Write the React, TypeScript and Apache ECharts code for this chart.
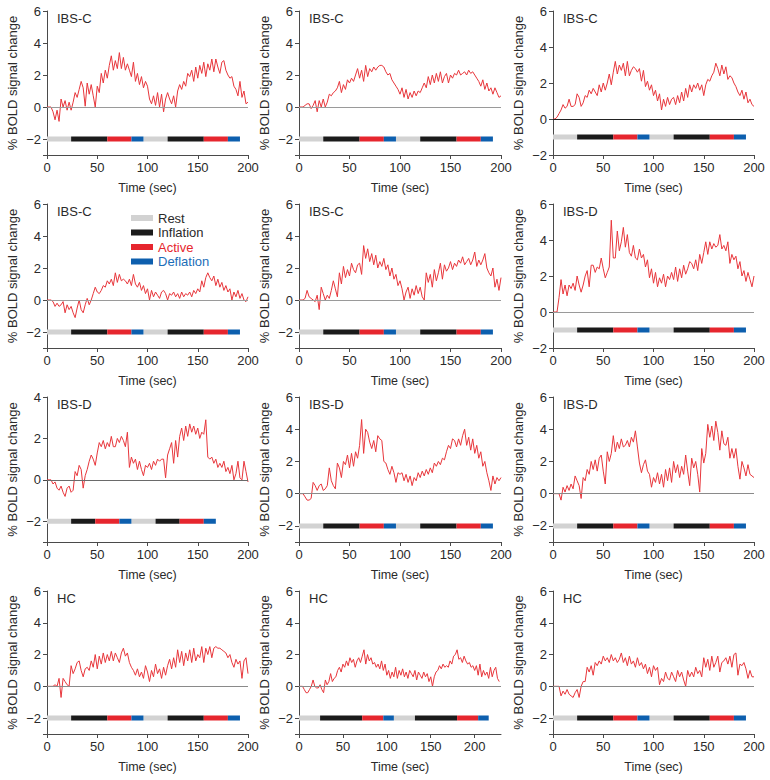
import React, { useEffect, useRef } from "react";
import * as echarts from "echarts";

// ---------- data ----------
const panelTitles = ["IBS-C", "IBS-C", "IBS-C", "IBS-C", "IBS-C", "IBS-D", "IBS-D", "IBS-D", "IBS-D", "HC", "HC", "HC"];
const sampleStepSec = 2;

const p1 = [0, 0, 0, -0.3, -0.8, -0.2, -0.9, 0.5, 0.0, 0.4,
  -0.2, 0.3, -0.2, 0.3, 0.9, 0.6, 1.1, 1.6, 1.2, 0.05,
  1.5, 0.8, 1.4, 0.7, 0.0, 1.3, 0.9, 2.1, 1.5, 2.3,
  1.8, 2.6, 3.2, 2.3, 2.9, 2.4, 3.4, 2.4, 3.1, 2.3,
  2.7, 2.3, 1.9, 2.8, 1.6, 2.1, 1.4, 1.9, 1.2, 1.6,
  1.3, 0.5, 0.2, 0.7, 0.1, 0.9, 0.0, 0.8, -0.3, 0.5,
  0.9, 0.5, 0.2, 0.7, 0.0, 1.0, 1.4, 1.1, 1.6, 1.3,
  2.1, 1.9, 2.3, 1.6, 2.5, 1.8, 2.6, 2.1, 2.8, 1.9,
  2.7, 2.3, 3.0, 2.2, 3.0, 2.5, 2.1, 2.8, 2.9, 2.3,
  2.0, 1.8, 1.9, 1.3, 1.1, 0.7, 1.6, 0.6, 1.0, 0.2,
  0.3];
const p2 = [0, 0, 0, 0.1, 0.2, 0.2, -0.1, 0.1, 0.4, -0.3,
  0.4, 0.0, 0.5, 0.0, 0.3, 0.8, 0.7, 0.9, 1.0, 1.2,
  1.6, 0.9, 1.4, 1.1, 1.7, 1.5, 1.8, 1.6, 2.0, 2.4,
  1.8, 2.3, 1.6, 2.6, 1.9, 2.4, 2.2, 2.5, 2.3, 2.5,
  2.6, 2.6, 2.5, 2.2, 2.0, 2.1, 1.7, 1.5, 1.3, 1.1,
  0.8, 1.2, 0.6, 1.1, 0.5, 0.9, 0.6, 1.0, 0.7, 1.0,
  0.9, 1.2, 1.5, 1.2, 1.9, 1.4, 2.0, 1.5, 2.1, 1.6,
  2.2, 1.5, 1.9, 2.1, 1.5, 2.0, 1.8, 2.1, 2.0, 2.3,
  2.0, 2.1, 2.2, 2.0, 2.3, 2.1, 2.2, 2.0, 1.8, 1.6,
  1.3, 1.7, 1.1, 1.5, 1.0, 1.2, 0.8, 1.2, 0.9, 0.6,
  0.7];
const p3 = [0, 0, 0.1, 0.3, 0.5, 0.8, 0.6, 0.7, 1.1, 0.7,
  0.7, 0.8, 1.4, 1.2, 0.7, 0.9, 1.3, 1.2, 1.6, 1.4,
  1.7, 1.5, 1.3, 1.9, 1.5, 2.0, 1.6, 2.0, 2.5, 1.9,
  2.6, 3.2, 2.5, 3.0, 2.7, 3.1, 2.4, 3.2, 2.4, 2.7,
  2.9, 2.8, 2.6, 2.8, 2.1, 2.7, 1.8, 2.1, 1.6, 1.9,
  1.3, 1.6, 1.0, 1.4, 0.5, 1.1, 0.7, 1.2, 0.8, 1.1,
  1.2, 0.8, 1.3, 0.9, 1.5, 1.0, 1.7, 1.2, 1.9, 1.5,
  1.9, 1.7, 2.0, 1.6, 1.9, 1.3, 1.9, 2.2, 2.1, 2.4,
  2.6, 3.1, 2.8, 2.4, 3.0, 2.5, 2.9, 2.2, 2.4, 2.3,
  2.0, 1.8, 1.5, 1.3, 1.6, 1.1, 1.5, 0.9, 1.1, 0.8,
  0.7];
const p4 = [0, 0, 0, -0.1, -0.4, -0.2, -0.4, -0.3, -0.1, -0.8,
  -0.3, -0.6, -0.4, -0.8, -1.1, -0.5, 0.0, -0.6, -0.8, -0.3,
  0.1, -0.3, 0.0, 0.4, 0.8, 0.5, 0.4, 0.6, 0.9, 0.8,
  1.2, 1.0, 1.3, 0.9, 1.7, 1.1, 1.6, 1.2, 1.3, 1.2,
  1.0, 1.3, 0.9, 1.6, 1.0, 0.8, 1.1, 0.6, 0.9, 0.4,
  0.7, 0.0, 0.6, 0.2, 0.5, 0.3, 0.1, 0.5, 0.6, 0.4,
  0.0, 0.4, 0.3, 0.5, 0.2, 0.4, 0.1, 0.5, 0.2, 0.4,
  0.3, 0.5, 0.2, 0.6, 0.4, 0.7, 0.5, 1.2, 0.8, 1.4,
  1.7, 1.4, 1.2, 1.5, 0.9, 1.3, 0.8, 1.1, 0.6, 0.9,
  0.5, 0.7, 0.0, 0.5, 0.2, 0.6, 0.1, 0.4, 0.0, -0.1,
  0.2];
const p5 = [0, 0, 0, 0.1, 0.6, 0.2, 0.1, 0.0, -0.1, 0.3,
  -0.6, 0.8, 0.4, 0.0, 0.3, 0.1, 0.6, 1.2, 0.7, 0.2,
  1.7, 1.0, 2.1, 1.4, 1.9, 1.5, 2.3, 1.9, 1.7, 2.2,
  2.3, 1.6, 3.4, 2.6, 3.2, 2.4, 2.9, 2.2, 2.8, 2.0,
  2.4, 2.1, 2.6, 1.9, 2.2, 1.5, 2.0, 1.3, 1.6, 0.9,
  1.2, 0.7, 0.0, 0.5, 0.8, 0.1, 0.7, 0.3, 0.9, 0.4,
  0.8, 0.2, 0.0, 1.7, 1.1, 1.6, 0.8, 1.9, 1.2, 1.7,
  2.3, 1.3, 2.2, 1.8, 2.0, 2.4, 1.9, 2.3, 2.1, 2.5,
  2.3, 2.7, 2.2, 2.4, 2.6, 2.2, 2.5, 3.0, 2.1, 2.5,
  2.2, 2.5, 2.9, 2.0, 1.7, 1.5, 2.0, 0.8, 1.3, 0.6,
  1.4];
const p6 = [0, 0, 0, 0.8, 1.8, 1.0, 1.5, 0.9, 1.5, 1.3,
  1.6, 1.2, 2.0, 1.5, 1.1, 1.5, 2.0, 2.3, 1.4, 2.6,
  2.6, 2.2, 2.5, 2.4, 3.0, 2.4, 1.9, 2.2, 2.5, 5.1,
  3.0, 3.0, 4.5, 3.4, 3.9, 4.7, 3.6, 4.3, 3.3, 3.1,
  3.7, 3.0, 2.9, 3.5, 3.0, 3.2, 2.5, 2.9, 1.9, 2.4,
  1.6, 2.2, 1.4, 1.9, 1.6, 2.1, 1.4, 2.0, 1.8, 2.2,
  1.8, 2.5, 1.7, 2.4, 1.9, 2.6, 2.1, 2.4, 2.8, 2.7,
  2.4, 2.9, 2.3, 3.2, 2.7, 3.3, 3.9, 3.2, 3.9, 3.5,
  3.8, 3.6, 3.7, 4.3, 3.5, 3.7, 3.4, 3.9, 2.7, 3.2,
  2.9, 3.1, 2.4, 2.8, 2.0, 2.3, 1.7, 2.2, 1.8, 1.4,
  2.0];
const p7 = [0, 0, 0, -0.2, -0.1, -0.4, -0.5, -0.3, -0.6, -0.8,
  -0.4, -0.3, -0.6, -0.5, 0.4, 0.2, 0.7, 0.5, -0.4, 0.2,
  0.5, 0.9, 1.2, 1.0, 0.7, 1.3, 1.8, 1.6, 1.9, 1.5,
  1.8, 1.6, 2.1, 1.6, 1.6, 2.0, 1.8, 2.1, 1.9, 1.6,
  2.3, 0.6, 1.1, 0.8, 1.0, 0.5, 0.9, 0.5, 0.2, 0.7,
  0.6, 0.8, 0.5, 0.9, 0.7, 1.0, 0.9, 1.0, 1.0, 0.1,
  1.2, 1.5, 1.8, 0.8, 1.9, 1.1, 2.1, 2.5, 1.9, 2.6,
  2.1, 2.7, 2.3, 2.6, 2.2, 2.5, 2.0, 2.3, 2.2, 2.9,
  1.1, 1.0, 1.1, 0.8, 1.0, 0.6, 0.8, 0.6, 0.9, 0.4,
  0.6, 0.3, 0.7, 0.0, 0.3, 0.9, 0.1, 0.0, 0.9, 0.4,
  -0.1];
const p8 = [0, 0, 0, -0.2, -0.4, -0.4, -0.3, 0.7, 0.5, 0.2,
  0.5, 0.6, 0.2, 0.3, 0.5, 1.6, 0.8, 0.5, 0.3, 1.9,
  1.6, 1.0, 2.0, 1.8, 2.4, 1.6, 2.5, 1.7, 2.6, 2.2,
  3.0, 4.6, 2.5, 4.0, 3.8, 3.2, 2.8, 3.3, 2.6, 3.6,
  3.4, 3.3, 2.0, 1.9, 1.5, 1.2, 1.7, 1.3, 0.7, 1.3,
  1.2, 1.3, 0.8, 1.2, 0.7, 1.1, 0.5, 1.0, 0.8, 1.3,
  1.0, 1.4, 1.1, 1.5, 1.2, 1.6, 1.3, 1.9, 1.7, 2.0,
  1.8, 2.2, 2.1, 2.6, 3.0, 2.8, 3.4, 3.3, 2.9, 3.4,
  3.0, 3.6, 4.0, 3.0, 3.5, 2.7, 3.4, 2.5, 3.0, 2.2,
  2.6, 1.7, 2.0, 1.3, 0.8, 0.2, 1.1, 0.6, 1.0, 0.8,
  1.0];
const p9 = [0, 0, 0, 0, -0.4, 0.4, 0.1, 0.5, 0.2, 0.6,
  0.3, 1.1, 0.8, 0.5, -0.3, 1.0, 0.8, 1.5, 1.2, 2.0,
  1.5, 2.1, 1.4, 2.2, 2.4, 1.4, 0.6, 2.6, 2.0, 2.5,
  3.6, 2.6, 3.2, 2.8, 3.4, 2.9, 3.0, 3.3, 2.9, 3.5,
  3.2, 3.9, 2.9, 1.9, 1.3, 1.8, 2.1, 1.4, 1.2, 0.4,
  1.0, 0.7, 1.3, 0.6, 1.2, 0.4, 1.5, 0.8, 1.6, 0.7,
  2.0, 1.3, 1.8, 1.0, 1.7, 1.2, 2.4, 1.4, 0.5, 2.2,
  1.6, 2.0, 1.2, 0.1, 2.8, 1.9, 2.5, 4.3, 3.5, 4.2,
  3.3, 4.5, 3.8, 2.7, 3.9, 3.1, 3.0, 3.5, 2.2, 2.8,
  2.2, 2.8, 1.7, 0.9, 2.0, 1.6, 1.1, 1.8, 1.2, 1.1,
  1.0];
const p10 = [0, 0, 0, 0, 0.1, 0.0, 0.5, -0.7, 0.5, 0.3,
  0.1, 0.0, 1.3, 0.8, 1.1, 1.5, 1.6, 1.0, 0.6, 1.1,
  1.2, 1.0, 1.6, 1.2, 2.0, 1.1, 1.9, 1.4, 2.1, 1.5,
  2.0, 1.6, 2.2, 1.6, 2.1, 1.8, 1.5, 2.1, 2.4, 1.9,
  2.1, 1.5, 1.2, 1.0, 0.7, 1.1, 0.6, 0.9, 0.5, 1.3,
  0.9, 0.3, 1.0, 0.6, 1.4, 0.8, 1.1, 0.5, 1.2, 0.7,
  1.3, 1.7, 1.1, 1.8, 1.2, 2.3, 1.5, 2.2, 1.3, 2.1,
  1.6, 2.3, 1.5, 2.4, 1.6, 2.0, 1.8, 2.5, 1.5, 2.4,
  2.0, 2.5, 1.8, 2.4, 2.5, 2.4, 2.4, 2.3, 2.2, 2.1,
  1.8, 2.0, 1.5, 1.2, 1.7, 1.4, 1.6, 0.5, 1.6, 1.8,
  0.8];
const p11 = [0, 0, 0, -0.2, -0.4, -0.4, -0.2, 0.0, 0.4, 0.0,
  -0.1, -0.1, 0.1, -0.2, -0.4, 0.4, 0.1, 0.3, 0.8, 0.3,
  0.5, 0.6, 1.0, 1.2, 0.9, 1.4, 1.2, 1.6, 1.3, 1.8,
  1.5, 1.7, 1.2, 1.6, 1.8, 1.5, 1.9, 2.3, 1.4, 2.0,
  1.6, 1.8, 1.4, 1.5, 1.2, 1.4, 1.1, 1.6, 1.0, 1.4,
  0.7, 1.0, 0.5, 0.9, 0.6, 1.2, 0.5, 1.0, 0.7, 1.1,
  0.6, 0.9, 0.5, 1.0, 0.8, 0.6, 1.0, 0.4, 0.9, 0.7,
  0.5, 0.9, 0.6, 0.8, 0.3, 0.6, 0.0, 0.6, 0.9, 1.0,
  1.3, 1.1, 1.4, 1.2, 1.3, 1.2, 1.6, 1.4, 1.9, 2.0,
  2.3, 1.7, 1.8, 1.5, 1.9, 1.6, 1.4, 1.5, 1.2, 1.3,
  1.0, 1.3, 0.7, 1.4, 0.6, 1.0, 0.7, 0.9, 0.5, 1.2,
  0.6, 1.0, 1.2, 0.5, 0.3];
const p12 = [0, 0, 0, 0, -0.6, -0.3, -0.5, -0.2, -0.5, -0.6,
  -0.7, -0.4, -0.2, -0.7, 0.0, 0.3, 0.3, 1.2, 0.9, 1.3,
  0.7, 1.5, 1.3, 1.6, 1.4, 1.9, 1.6, 1.8, 1.5, 2.0,
  1.6, 1.8, 1.5, 1.7, 2.1, 1.5, 1.8, 1.3, 1.9, 1.4,
  1.6, 1.2, 1.8, 1.3, 1.5, 1.1, 1.4, 0.8, 1.2, 0.6,
  1.3, 1.0, 1.2, 0.1, 0.5, 0.3, 0.9, 0.5, 0.4, 0.9,
  0.6, 0.3, 1.0, 0.6, 0.9, 0.4, 0.0, 1.0, 0.6, 0.9,
  0.6, 1.2, 0.8, 1.0, 0.6, 1.8, 1.2, 1.7, 1.0, 1.9,
  1.2, 1.5, 1.9, 0.9, 1.5, 1.6, 1.8, 1.4, 1.9, 1.2,
  2.0, 2.1, 0.7, 1.4, 1.3, 1.5, 1.1, 0.5, 1.0, 0.6,
  0.6];
const panelValues = [p1, p2, p3, p4, p5, p6, p7, p8, p9, p10, p11, p12];

// stimulation blocks (seconds); segment k uses phase k % 4
const phaseNames = ["Rest", "Inflation", "Active", "Deflation"];
const timingStd = [0, 24, 60, 84, 96, 120, 156, 180, 192];
const timingShort = [0, 24, 48, 72, 84, 108, 132, 156, 168];
const timingLong = [0, 24, 72, 96, 108, 132, 180, 204, 216];
const panelTiming = [timingStd, timingStd, timingStd, timingStd, timingStd, timingStd,
  timingShort, timingStd, timingStd, timingStd, timingLong, timingStd];
const blockLevel = [-2, -2, -1, -2, -2, -1, -2, -2, -2, -2, -2, -2];

const yMinList = [-3, -3, -2, -3, -3, -2, -3, -3, -3, -3, -3, -3];
const yMaxList = [6, 6, 6, 6, 6, 6, 4, 6, 6, 6, 6, 6];
const xMaxList = [200, 200, 200, 200, 200, 200, 200, 200, 200, 200, 230, 200];
const xTickValues = [0, 50, 100, 150, 200];

// ---------- styling ----------
const FONT = "'Liberation Sans', Arial, Helvetica, sans-serif";
const TEXT = "#2a2a2a";
const phaseColors = ["#d2d2d2", "#1b1b1b", "#e6262e", "#0d5fae"];
const legendTextColors = [TEXT, TEXT, "#e6262e", "#1c6db8"];
const signalColor = "#e8363b";
const zeroLineColors = ["#9a9a9a", "#9a9a9a", "#222222", "#9a9a9a", "#9a9a9a", "#9a9a9a",
  "#6a6a6a", "#8a8a8a", "#8a8a8a", "#8a8a8a", "#8a8a8a", "#8a8a8a"];
const colLeft = [47, 299, 553];
const colWidth = [201, 202, 201];
const rowTop = [11, 204, 397, 591];
const rowHeight = [144, 144, 145, 143];

function fmtNum(v: number) {
  return v < 0 ? "\u2212" + Math.abs(v) : String(v);
}

function buildOption() {
  const grid: any[] = [];
  const xAxis: any[] = [];
  const yAxis: any[] = [];
  const series: any[] = [];
  const title: any[] = [];
  const axisColor = "#4a4a4a";
  for (let i = 0; i < 12; i++) {
    const row = Math.floor(i / 3);
    const col = i % 3;
    grid.push({ left: colLeft[col], top: rowTop[row], width: colWidth[col], height: rowHeight[row] });
    title.push({
      text: panelTitles[i], left: colLeft[col] + 10, top: rowTop[row] + 1, padding: 0,
      textStyle: { fontSize: 13, fontWeight: "normal", color: TEXT, fontFamily: FONT },
    });
    xAxis.push({
      type: "value", gridIndex: i, min: 0, max: xMaxList[i],
      axisLine: { show: true, onZero: false, lineStyle: { color: axisColor, width: 1 } },
      axisTick: { show: true, length: 4, customValues: xTickValues, lineStyle: { color: axisColor } },
      axisLabel: { customValues: xTickValues, margin: 6, fontSize: 13, fontWeight: "normal", color: TEXT, fontFamily: FONT },
      splitLine: { show: false },
      name: "Time (sec)", nameLocation: "middle", nameGap: 26,
      nameTextStyle: { fontSize: 12.5, fontWeight: "normal", color: TEXT, fontFamily: FONT },
    });
    const yLabels: number[] = [];
    for (let v = Math.ceil(yMinList[i] / 2) * 2; v <= yMaxList[i]; v += 2) yLabels.push(v);
    const yTicks = yLabels.indexOf(yMinList[i]) >= 0 ? yLabels : [yMinList[i], ...yLabels];
    yAxis.push({
      type: "value", gridIndex: i, min: yMinList[i], max: yMaxList[i],
      axisLine: { show: true, onZero: false, lineStyle: { color: axisColor, width: 1 } },
      axisTick: { show: true, length: 4, customValues: yTicks, lineStyle: { color: axisColor } },
      axisLabel: { customValues: yLabels, margin: 6, fontSize: 13, fontWeight: "normal", color: TEXT, fontFamily: FONT, formatter: fmtNum },
      splitLine: { show: false },
      name: "% BOLD signal change", nameLocation: "middle", nameGap: 28, nameRotate: 90,
      nameTextStyle: { fontSize: 13, fontWeight: "normal", color: TEXT, fontFamily: FONT },
    });
    // signal
    series.push({
      type: "line", xAxisIndex: i, yAxisIndex: i, name: "signal" + i,
      data: panelValues[i].map((v, k) => [k * sampleStepSec, v]),
      symbol: "none", showSymbol: false, z: 3,
      lineStyle: { color: signalColor, width: 1 },
      itemStyle: { color: signalColor },
      emphasis: { disabled: true },
      markLine: {
        silent: true, symbol: "none", label: { show: false },
        lineStyle: { color: zeroLineColors[i], width: 1.2, type: "solid" },
        emphasis: { disabled: true },
        data: [{ yAxis: 0 }],
      },
    });
    // blocks
    const t = panelTiming[i];
    for (let p = 0; p < 4; p++) {
      const data: any[] = [];
      for (let k = 0; k + 1 < t.length; k++) {
        if (k % 4 !== p) continue;
        if (data.length) data.push(["-", "-"]);
        data.push([t[k], blockLevel[i]], [t[k + 1], blockLevel[i]]);
      }
      series.push({
        type: "line", xAxisIndex: i, yAxisIndex: i, name: phaseNames[p],
        data, symbol: "none", showSymbol: false, connectNulls: false, z: 2,
        color: phaseColors[p],
        lineStyle: { color: phaseColors[p], width: 5, cap: "butt" },
        itemStyle: { color: phaseColors[p] },
        emphasis: { disabled: true },
      });
    }
  }
  return {
    animation: false,
    textStyle: { fontFamily: FONT },
    title,
    grid,
    xAxis,
    yAxis,
    series,
    legend: {
      show: true, orient: "vertical", left: 131, top: 211, icon: "rect",
      itemWidth: 22, itemHeight: 6, itemGap: 0.5, selectedMode: false, padding: 0,
      textStyle: { fontSize: 13, lineHeight: 14, color: TEXT, fontFamily: FONT },
      data: phaseNames.map((n, k) => ({ name: n, textStyle: { color: legendTextColors[k] } })),
    },
  };
}

export default function App() {
  const ref = useRef<HTMLDivElement>(null);
  useEffect(() => {
    document.body.style.margin = "0";
    if (!ref.current) return;
    const chart = echarts.init(ref.current, null, { renderer: "svg" });
    chart.setOption(buildOption() as any);
    return () => chart.dispose();
  }, []);
  return <div ref={ref} style={{ width: 770, height: 780, background: "#fff" }} />;
}
